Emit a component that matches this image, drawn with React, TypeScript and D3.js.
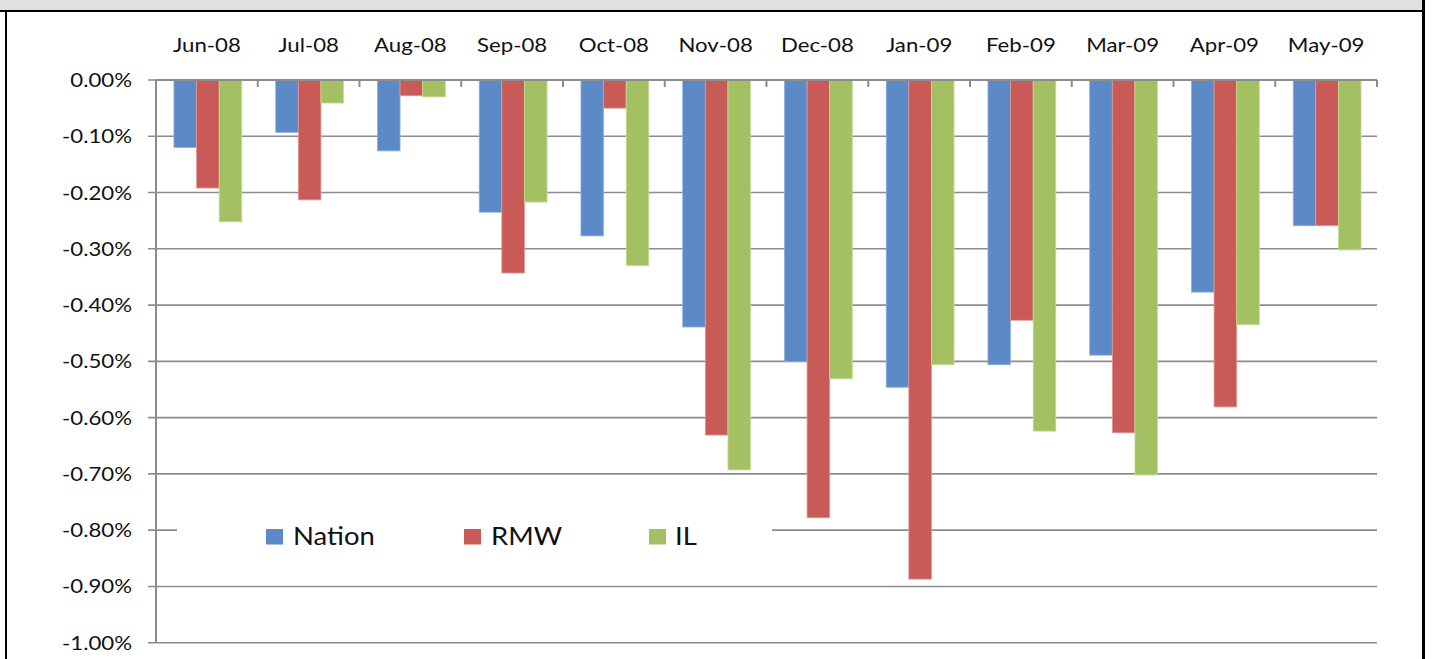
import React from "react";
import * as d3 from "d3";

const months = ["Jun-08","Jul-08","Aug-08","Sep-08","Oct-08","Nov-08","Dec-08","Jan-09","Feb-09","Mar-09","Apr-09","May-09"];
const seriesNames = ["Nation","RMW","IL"];
const nation = [-0.12,-0.093,-0.126,-0.235,-0.277,-0.439,-0.5,-0.546,-0.506,-0.489,-0.377,-0.259];
const rmw = [-0.192,-0.213,-0.028,-0.343,-0.05,-0.631,-0.778,-0.887,-0.427,-0.627,-0.581,-0.259];
const il = [-0.252,-0.041,-0.03,-0.217,-0.33,-0.693,-0.531,-0.506,-0.624,-0.702,-0.435,-0.302];
const yTicks = [0,-0.1,-0.2,-0.3,-0.4,-0.5,-0.6,-0.7,-0.8,-0.9,-1.0];
const colors = ["#5B8AC6","#C85A58","#A3C162"];
const strokes = ["#8fb0dc","#e09a98","#c6dc9a"];

const FONT = "Lato, 'Open Sans', sans-serif";
const SX = 1.14;

export default function App() {
  const W = 1432, H = 659;
  const x0 = 156, x1 = 1377;
  const y = d3.scaleLinear().domain([-1.0, 0]).range([642.7, 80]);
  const x = d3.scaleBand().domain(months).range([x0, x1]).paddingInner(0).paddingOuter(0);
  const xs = d3.scaleBand().domain(seriesNames).range([0, x.bandwidth()]).paddingInner(0).paddingOuter(0.75);
  const data = [nation, rmw, il];
  const fmt = (v: number) => (v < 0 ? "-" : "") + d3.format(".2f")(Math.abs(v)) + "%";
  const gridColor = "#8c8c8c";

  const legendItems = [
    { sx: 266, tx: 293 },
    { sx: 464, tx: 491 },
    { sx: 649, tx: 675 },
  ];

  return (
    <svg width={W} height={H} style={{ position: "absolute", left: 0, top: 0 }} fontFamily={FONT}>
      <rect x={0} y={0} width={W} height={H} fill="#ffffff" />
      <rect x={0} y={0} width={1423} height={11} fill="#e0e0e0" />
      <line x1={0} x2={1425} y1={11} y2={11} stroke="#000" strokeWidth={2} />
      <line x1={6} x2={6} y1={10} y2={H} stroke="#000" strokeWidth={2} />
      <line x1={1423.5} x2={1423.5} y1={0} y2={H} stroke="#000" strokeWidth={3} />

      {yTicks.map((t) => (
        <g key={t}>
          <line x1={148} x2={x1} y1={y(t)} y2={y(t)} stroke={gridColor} strokeWidth={1.6} />
          <g transform={`translate(132,${y(t)}) scale(${SX},1)`}>
            <text x={0} y={0} dy="0.36em" textAnchor="end" fontSize={19.5} fill="#111">{fmt(t)}</text>
          </g>
        </g>
      ))}

      {months.map((m, i) => (
        <g key={m}>
          {data.map((arr, s) => {
            const v = arr[i];
            const bx = (x(m) as number) + (xs(seriesNames[s]) as number) + 1;
            return (
              <rect key={s} x={bx} y={y(0)} width={xs.bandwidth()} height={y(v) - y(0)}
                fill={colors[s]} stroke={strokes[s]} strokeWidth={0.8} />
            );
          })}
        </g>
      ))}

      <line x1={x0} x2={x0} y1={80} y2={643} stroke={gridColor} strokeWidth={2} />
      <line x1={x0} x2={x1} y1={y(0)} y2={y(0)} stroke={gridColor} strokeWidth={2} />
      {d3.range(months.length + 1).map((k) => {
        const tx = x0 + k * x.step();
        return <line key={k} x1={tx} x2={tx} y1={y(0)} y2={y(0) + 7} stroke={gridColor} strokeWidth={2} />;
      })}

      {months.map((m) => (
        <g key={m} transform={`translate(${(x(m) as number) + x.bandwidth() / 2},52) scale(${SX},1)`}>
          <text x={0} y={0} textAnchor="middle" fontSize={19.5} fill="#111">{m}</text>
        </g>
      ))}

      <rect x={177} y={512} width={595} height={44} fill="#ffffff" />
      {seriesNames.map((n, i) => (
        <g key={n}>
          <rect x={legendItems[i].sx} y={529} width={17} height={15.5} fill={colors[i]} />
          <g transform={`translate(${legendItems[i].tx},545) scale(1.12,1)`}>
            <text x={0} y={0} fontSize={24.5} fill="#111">{n}</text>
          </g>
        </g>
      ))}
    </svg>
  );
}
